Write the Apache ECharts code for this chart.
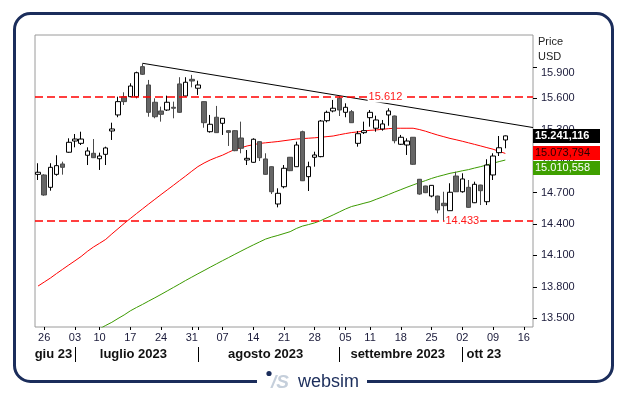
<!DOCTYPE html>
<html><head><meta charset="utf-8">
<script src="https://cdn.jsdelivr.net/npm/echarts@6/dist/echarts.min.js"></script>
<style>html,body{margin:0;padding:0;background:#fff}#c{width:628px;height:394px}</style>
</head><body><div id="c"></div>
<script>
const dates = ['2023-06-23','2023-06-26','2023-06-27','2023-06-28','2023-06-29','2023-06-30',
'2023-07-03','2023-07-05','2023-07-06','2023-07-07',
'2023-07-10','2023-07-11','2023-07-12','2023-07-13','2023-07-14',
'2023-07-17','2023-07-18','2023-07-19','2023-07-20','2023-07-21',
'2023-07-24','2023-07-25','2023-07-26','2023-07-27','2023-07-28',
'2023-07-31','2023-08-01','2023-08-02','2023-08-03','2023-08-04',
'2023-08-07','2023-08-08','2023-08-09','2023-08-10','2023-08-11',
'2023-08-14','2023-08-15','2023-08-16','2023-08-17','2023-08-18',
'2023-08-21','2023-08-22','2023-08-23','2023-08-24','2023-08-25',
'2023-08-28','2023-08-29','2023-08-30','2023-08-31','2023-09-01',
'2023-09-05','2023-09-06','2023-09-07','2023-09-08',
'2023-09-11','2023-09-12','2023-09-13','2023-09-14','2023-09-15',
'2023-09-18','2023-09-19','2023-09-20','2023-09-21','2023-09-22',
'2023-09-25','2023-09-26','2023-09-27','2023-09-28','2023-09-29',
'2023-10-02','2023-10-03','2023-10-04','2023-10-05','2023-10-06',
'2023-10-09','2023-10-10','2023-10-11','2023-10-12','2023-10-13',
'2023-10-16','2023-10-17'];

const opens = [14874,14868,14750,14874,14973,15085,15192,15170,15056,15075,
15023,15065,15288,15441,15615,15615,15615,15902,15727,15562,
15479,15488,15514,15737,15622,15781,15696,15568,15281,15419,
15361,15291,15291,15221,15011,14989,15186,15021,14947,14591,
14756,15037,14947,15281,14852,15037,15043,15386,15479,15600,
15466,15472,15170,15272,15415,15314,15307,15441,15431,15161,
15154,15228,14827,14763,14667,14667,14598,14527,14858,14708,
14750,14603,14772,14613,14868,15081,15202];
const highs = [14980,14875,14980,15056,14995,15218,15259,15281,15132,15211,
15081,15138,15367,15615,15657,15743,15854,15934,15775,15600,
15520,15625,15568,15801,15801,15823,15768,15570,15441,15527,
15410,15293,15295,15377,15106,15218,15190,15075,14950,14741,
14963,15040,15186,15291,14995,15090,15393,15482,15584,15625,
15552,15488,15288,15377,15488,15434,15393,15505,15435,15250,
15218,15230,14830,14765,14770,14670,14708,14789,14899,14884,
14820,14804,14775,15018,15075,15240,15245];
const lows = [14820,14670,14718,14861,14871,15080,15132,15154,14963,15030,
14916,14963,15202,15419,15536,15610,15600,15823,15424,15409,
15377,15479,15409,15460,15615,15705,15632,15319,15272,15270,
15250,15145,15095,15075,14963,14985,15001,14870,14686,14559,
14741,14905,14945,14810,14715,14947,15037,15371,15466,15431,
15419,15365,15138,15259,15329,15281,15291,15338,15170,15154,
15059,14965,14680,14695,14655,14502,14433,14525,14705,14699,
14555,14600,14581,14581,14820,15049,15123];
const closes = [14894,14677,14941,14957,14941,15180,15211,15211,15097,15033,
15049,15126,15307,15568,15568,15717,15844,15829,15466,15424,
15447,15562,15505,15466,15753,15765,15727,15367,15352,15272,
15409,15275,15100,15123,15027,15209,15033,14874,14708,14693,
14932,14909,15154,14813,14947,15059,15383,15466,15505,15488,
15514,15367,15262,15291,15466,15393,15355,15479,15195,15228,
15192,14970,14686,14699,14769,14534,14575,14703,14708,14830,
14559,14779,14718,14963,15049,15128,15241.116];

const ma50 = [13808,13846,13884,13927,13968,14009,14049,14090,14138,14180,
14216,14253,14305,14355,14405,14452,14499,14545,14591,14636,
14681,14725,14769,14814,14858,14904,14948,14982,15011,15035,
15057,15085,15112,15128,15145,15157,15169,15175,15181,15187,
15195,15203,15211,15215,15219,15223,15228,15234,15240,15252,
15263,15273,15279,15288,15294,15298,15304,15310,15314,15314,
15314,15314,15302,15286,15267,15249,15233,15217,15204,15190,
15175,15160,15145,15129,15114,15093,15073.794];
const ma200 = [13073,13106,13139,13172,13205,13238,13271,13303,13335,13367,
13399,13432,13462,13498,13532,13571,13603,13633,13665,13696,
13728,13761,13794,13827,13861,13893,13925,13956,13988,14019,
14050,14080,14111,14141,14171,14200,14228,14256,14275,14291,
14309,14327,14357,14380,14395,14411,14433,14460,14487,14515,
14543,14567,14582,14598,14613,14636,14658,14681,14705,14728,
14751,14773,14794,14814,14835,14853,14868,14884,14895,14908,
14919,14934,14948,14964,14980,14996,15010.558];

const trendAnchorDates = ['2023-07-19','2023-09-01'];
const trendAnchorValues = [15934,15625];
const resistance = 15612;
const support = 14433;
const yTicks = [13500,13800,14100,14400,14700,15000,15300,15600,15900];
const monthKeys = ['2023-06','2023-07','2023-08','2023-09','2023-10'];
const monthNames = ['giu 23','luglio 2023','agosto 2023','settembre 2023','ott 23'];

const FONT = '"Liberation Sans", Arial, sans-serif';
const N = dates.length;
const nData = closes.length;
const candles = opens.map((o,i)=>[o, closes[i], lows[i], highs[i]]);

const dow = d => new Date(d+'T00:00:00Z').getUTCDay();
const weekIdx = [];
for (let i=1;i<N;i++) if (dow(dates[i]) < dow(dates[i-1])) weekIdx.push(i);
const monthFirst = [], monthMid = [];
monthKeys.forEach(k=>{
  const idx = [];
  for (let i=0;i<nData;i++) if (dates[i].startsWith(k)) idx.push(i);
  monthFirst.push(idx[0]);
  monthMid.push((idx[0]+idx[idx.length-1])/2);
});
const sepIdx = monthFirst.slice(1);
const dayTickIdx = Array.from(new Set(weekIdx.concat(sepIdx))).sort((a,b)=>a-b);

const ta = trendAnchorDates.map(d=>dates.indexOf(d));
const slope = (trendAnchorValues[1]-trendAnchorValues[0])/(ta[1]-ta[0]);
const xEnd = N - 0.5;
const trend = [[ta[0], trendAnchorValues[0]], [xEnd, trendAnchorValues[0] + slope*(xEnd-ta[0])]];

const fmt3 = v => (v/1000).toFixed(3);
const fmtFull = v => { const s = v.toFixed(3).split('.'); return (Number(s[0])/1000).toFixed(3) + ',' + s[1]; };

const chart = echarts.init(document.getElementById('c'), null, {renderer:'canvas'});
const labelColor = '#1a1a3a';
const RED = '#ff0000';
const dashStyle = {color: RED, type:[8,4], width:1.5, opacity:1};
const hLabel = (txt) => ({show:true, position:'insideMiddle', formatter: txt, color:'#ff1a1a', fontSize:11, fontFamily:FONT, backgroundColor:'#fff', padding:[0,1]});
const option = {
  animation: false,
  grid: {left: 35, right: 95, top: 35, bottom: 67, show: true, borderColor: '#9a9a9a', borderWidth: 1},
  xAxis: [
    {type:'category', data: dates, boundaryGap: true, show: false, position:'bottom'},
    {type:'value', min: -0.5, max: N-0.5, position:'bottom', splitLine:{show:false},
     axisLine:{show:false, onZero:false},
     axisTick:{show:true, length:3, customValues: dayTickIdx, lineStyle:{color:'#000'}},
     axisLabel:{show:true, customValues: weekIdx, margin:5, fontSize:11, fontFamily:FONT, color:labelColor,
       formatter: v => dates[Math.round(v)].slice(8,10)}},
    {type:'value', min: -0.5, max: N-0.5, position:'bottom', offset: 20, splitLine:{show:false},
     axisLine:{show:false, onZero:false},
     axisTick:{show:true, length:15, customValues: sepIdx, lineStyle:{color:'#000', width:1}},
     axisLabel:{show:true, customValues: monthMid, margin:1, fontSize:13, fontWeight:'bold', fontFamily:FONT, color:'#111',
       formatter: v => monthNames[monthMid.indexOf(v)]}}
  ],
  yAxis: [{type:'value', position:'right', min: 13417, max: 16204, scale:true,
    splitLine:{show:false}, axisLine:{show:false, onZero:false},
    axisTick:{show:true, length:4, customValues: yTicks, lineStyle:{color:'#000'}},
    axisLabel:{show:true, customValues: yTicks, margin:8, fontSize:11, fontFamily:FONT, color:labelColor,
      formatter: v => v === 15900 ? '{top|' + fmt3(v) + '}' : fmt3(v),
      rich:{top:{fontSize:11, fontFamily:FONT, color:labelColor, padding:[12,0,0,0]}}}
  }],
  series: [
    {type:'line', name:'ma200', data: ma200, xAxisIndex:0, yAxisIndex:0, symbol:'none', clip:true,
     lineStyle:{color:'#3c9a00', width:1}, z:2},
    {type:'line', name:'ma50', data: ma50, xAxisIndex:0, yAxisIndex:0, symbol:'none', clip:true,
     lineStyle:{color:RED, width:1}, z:2},
    {type:'line', name:'levels', data: [], xAxisIndex:1, yAxisIndex:0, symbol:'none', color: RED,
     markLine:{silent:true, symbol:'none', animation:false, lineStyle: dashStyle, label:{show:false},
       data:[
         {yAxis: resistance, lineStyle: dashStyle},
         {yAxis: support, lineStyle: dashStyle},
         [{coord:[52, resistance], lineStyle:{color:'rgba(255,255,255,0)', width:0}, label: hLabel(fmt3(resistance))},
          {coord:[61, resistance]}],
         [{coord:[65, support], lineStyle:{color:'rgba(255,255,255,0)', width:0}, label: hLabel(fmt3(support))},
          {coord:[73, support]}]
       ]}, z:2},
    {type:'line', name:'trend', data: trend, xAxisIndex:1, yAxisIndex:0, symbol:'none',
     lineStyle:{color:'#000', width:1}, z:3},
    {type:'candlestick', name:'price', data: candles, xAxisIndex:0, yAxisIndex:0, barWidth:5, z:4,
     itemStyle:{color:'#ffffff', color0:'#666666', borderColor:'#000000', borderColor0:'#4a4a4a', borderWidth:1}}
  ]
};
chart.setOption(option);

function buildGraphics(){
  const yOf = v => chart.convertToPixel({yAxisIndex:0}, v);
  const h = 14, x0 = 533, w = 67;
  const last = nData-1;
  const tC = Math.round(yOf(closes[last]) - h/2);
  const t50 = Math.max(Math.round(yOf(ma50[last]) - h/2), tC + h + 1);
  const t200 = Math.max(Math.round(yOf(ma200[last]) - h/2), t50 + h + 1);
  const box = (top, fill, txt, tcol, bold) => ([
    {type:'rect', z:100, shape:{x:x0, y:top, width:w, height:h}, style:{fill:fill}},
    {type:'text', z:101, x:x0+2, y:top+h/2, style:{text:txt, fill:tcol, font:(bold?'bold ':'')+'11px '+FONT, textVerticalAlign:'middle', textAlign:'left'}}
  ]);
  const g = [
    {type:'rect', z:50, shape:{x:14.5, y:13.5, width:598, height:368, r:16}, style:{fill:'none', stroke:'#1b2d5b', lineWidth:3}},
    {type:'rect', z:51, shape:{x:257, y:374, width:110, height:16}, style:{fill:'#fff'}},
    {type:'circle', z:52, shape:{cx:269, cy:373.5, r:2.6}, style:{fill:'#1b2d5b'}},
    {type:'text', z:52, x:271, y:383, style:{text:'/S', fill:'#c5cfdb', font:'italic bold 19px '+FONT, textVerticalAlign:'middle'}},
    {type:'text', z:52, x:298, y:382, style:{text:'websim', fill:'#1b2d5b', font:'18px '+FONT, textVerticalAlign:'middle'}},
    {type:'text', z:52, x:538, y:42, style:{text:'Price', fill:'#222', font:'11px '+FONT, textVerticalAlign:'middle'}},
    {type:'text', z:52, x:538, y:57, style:{text:'USD', fill:'#222', font:'11px '+FONT, textVerticalAlign:'middle'}}
  ].concat(
    box(tC, '#000000', fmtFull(closes[last]), '#ffffff', true),
    box(t50, RED, fmtFull(ma50[last]), '#2a0000', false),
    box(t200, '#3fa000', fmtFull(ma200[last]), '#ffffff', false)
  );
  chart.setOption({graphic: g});
}
buildGraphics();
</script>
</body></html>
